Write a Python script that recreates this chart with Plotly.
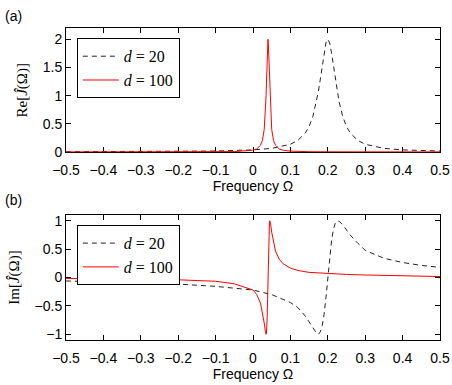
import plotly.graph_objects as go

# ---- data ----
omega20 = [-0.5, -0.4, -0.3, -0.2, -0.1, 0.0, 0.05, 0.1, 0.12, 0.14, 0.15, 0.16, 0.17, 0.175,
           0.18, 0.185, 0.19, 0.195, 0.2, 0.205, 0.21, 0.215, 0.22, 0.225, 0.23, 0.24, 0.25,
           0.26, 0.28, 0.3, 0.35, 0.4, 0.45, 0.5]
re20 = [0.003, 0.004, 0.006, 0.009, 0.016, 0.036, 0.063, 0.136, 0.205, 0.337, 0.451, 0.627,
        0.895, 1.077, 1.291, 1.528, 1.759, 1.934, 2.0, 1.934, 1.759, 1.528, 1.291, 1.077,
        0.895, 0.627, 0.451, 0.337, 0.205, 0.136, 0.063, 0.036, 0.023, 0.016]
im20 = [-0.06, -0.075, -0.09, -0.115, -0.155, -0.22, -0.30, -0.44, -0.53, -0.68, -0.78, -0.89,
        -0.98, -1.0, -0.956, -0.849, -0.651, -0.358, 0.0, 0.358, 0.651, 0.849, 0.956, 0.997,
        0.994, 0.928, 0.836, 0.748, 0.606, 0.48, 0.34, 0.265, 0.214, 0.179]

omega100 = [-0.5, -0.4, -0.3, -0.2, -0.1, -0.05, 0.0, 0.01, 0.02, 0.025, 0.03, 0.033, 0.034,
            0.035, 0.036, 0.037, 0.038, 0.039, 0.04, 0.041, 0.042, 0.043, 0.044, 0.045, 0.046,
            0.047, 0.05, 0.055, 0.06, 0.07, 0.08, 0.1, 0.12, 0.15, 0.2, 0.25, 0.3, 0.4, 0.5]
re100 = [0.0002, 0.0003, 0.0004, 0.0009, 0.0025, 0.006, 0.031, 0.054, 0.118, 0.2, 0.4, 0.676,
         0.82, 1.0, 1.22, 1.47, 1.72, 1.92, 2.0, 1.92, 1.72, 1.47, 1.22, 1.0, 0.82, 0.676, 0.4,
         0.2, 0.118, 0.054, 0.031, 0.0138, 0.0078, 0.0041, 0.002, 0.0011, 0.0007, 0.0004, 0.0002]
im100 = [-0.015, -0.02, -0.03, -0.04, -0.065, -0.11, -0.22, -0.30, -0.45, -0.6, -0.8, -0.946,
         -0.984, -1.0, -0.976, -0.882, -0.69, -0.385, 0.0, 0.385, 0.69, 0.882, 0.976, 1.0, 0.984,
         0.946, 0.8, 0.6, 0.47, 0.324, 0.246, 0.166, 0.125, 0.091, 0.068, 0.055, 0.045, 0.03, 0.018]

x_ticks = [-0.5, -0.4, -0.3, -0.2, -0.1, 0.0, 0.1, 0.2, 0.3, 0.4, 0.5]
x_tick_labels = ["\u22120.5", "\u22120.4", "\u22120.3", "\u22120.2", "\u22120.1", "0",
                 "0.1", "0.2", "0.3", "0.4", "0.5"]
re_ticks = [0, 0.5, 1, 1.5, 2]
re_tick_labels = ["0", "0.5", "1", "1.5", "2"]
im_ticks = [-1, -0.5, 0, 0.5, 1]
im_tick_labels = ["\u22121", "\u22120.5", "0", "0.5", "1"]

label20 = "<i>d</i> = 20"
label100 = "<i>d</i> = 100"

DASH_COLOR = "#222222"
RED = "#ff0000"
SANS = "Liberation Sans"
SERIF = "Liberation Serif"

fig = go.Figure()
fig.add_trace(go.Scatter(x=omega20, y=re20, mode="lines", name=label20,
                         line=dict(color=DASH_COLOR, width=1, dash="5px,4px"),
                         xaxis="x", yaxis="y", legend="legend"))
fig.add_trace(go.Scatter(x=omega100, y=re100, mode="lines", name=label100,
                         line=dict(color=RED, width=1),
                         xaxis="x", yaxis="y", legend="legend"))
fig.add_trace(go.Scatter(x=omega20, y=im20, mode="lines", name=label20,
                         line=dict(color=DASH_COLOR, width=1, dash="5px,4px"),
                         xaxis="x2", yaxis="y2", legend="legend2"))
fig.add_trace(go.Scatter(x=omega100, y=im100, mode="lines", name=label100,
                         line=dict(color=RED, width=1),
                         xaxis="x2", yaxis="y2", legend="legend2"))

axis_common = dict(showline=True, linecolor="black", linewidth=1, mirror="allticks",
                   ticks="inside", ticklen=5, tickcolor="black", tickwidth=1,
                   showgrid=False, zeroline=False, automargin=False,
                   ticklabeloverflow="allow",
                   tickfont=dict(family=SANS, size=14, color="black"),
                   layer="below traces")

xtitle = dict(text="Frequency \u03a9", font=dict(family=SANS, size=14, color="black"), standoff=0)

fig.update_layout(
    template="none",
    width=452, height=385,
    margin=dict(l=66, r=12, t=28, b=45),
    paper_bgcolor="white", plot_bgcolor="white",
    xaxis=dict(domain=[0, 1], anchor="y", range=[-0.5, 0.5], tickvals=x_ticks,
               ticktext=x_tick_labels, title=xtitle, ticklabelstandoff=5, **axis_common),
    yaxis=dict(domain=[0.601, 1], anchor="x", range=[-0.01, 2.2], tickvals=re_ticks,
               ticktext=re_tick_labels,
               title=dict(text="Re[<i>\u0134</i>(\u03a9)]",
                          font=dict(family=SERIF, size=15, color="black"), standoff=11),
               **axis_common),
    xaxis2=dict(domain=[0, 1], anchor="y2", range=[-0.5, 0.5], tickvals=x_ticks,
                ticktext=x_tick_labels, title=xtitle, ticklabelstandoff=5, **axis_common),
    yaxis2=dict(domain=[0, 0.4003], anchor="x2", range=[-1.1, 1.1], tickvals=im_ticks,
                ticktext=im_tick_labels,
                title=dict(text="Im[<i>\u0134</i>(\u03a9)]",
                           font=dict(family=SERIF, size=15, color="black"), standoff=11),
                **axis_common),
    legend=dict(x=0.029, y=0.967, xanchor="left", yanchor="top", bgcolor="white",
                bordercolor="black", borderwidth=1, itemwidth=36, tracegroupgap=0,
                font=dict(family=SERIF, size=16, color="black")),
    legend2=dict(x=0.029, y=0.368, xanchor="left", yanchor="top", bgcolor="white",
                 bordercolor="black", borderwidth=1, itemwidth=36, tracegroupgap=0,
                 font=dict(family=SERIF, size=16, color="black")),
    annotations=[
        dict(text="(a)", xref="paper", yref="paper", x=-0.168, y=1.037, xanchor="left",
             yanchor="middle", showarrow=False, font=dict(family=SANS, size=14, color="black")),
        dict(text="(b)", xref="paper", yref="paper", x=-0.168, y=0.448, xanchor="left",
             yanchor="middle", showarrow=False, font=dict(family=SANS, size=14, color="black")),
    ],
    showlegend=True,
)

fig.write_html("out.html", config={"displayModeBar": False},
               post_script="document.body.style.margin='0px';")
